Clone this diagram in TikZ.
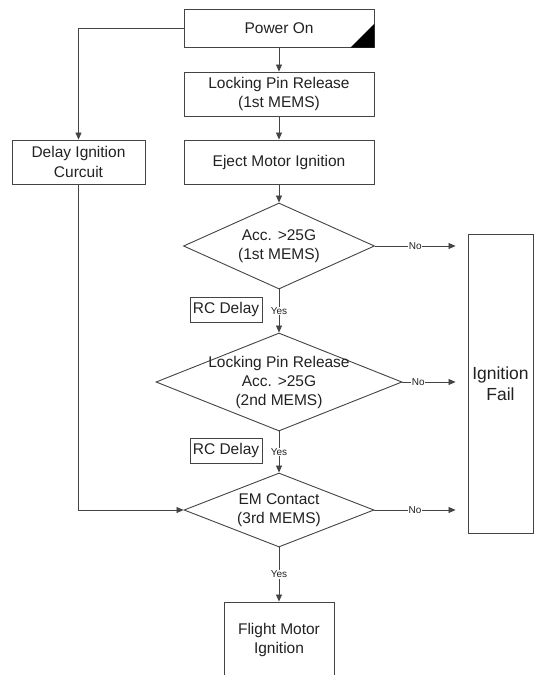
\documentclass[tikz,border=0pt]{standalone}
\usepackage{fontspec}
\setmainfont{Liberation Sans}
\usetikzlibrary{shapes.geometric,arrows.meta,calc}
\definecolor{txt}{HTML}{222222}
\definecolor{ln}{HTML}{444444}
\begin{document}
\begin{tikzpicture}[x=1pt,y=-1pt,
  box/.style={draw=ln,line width=0.9pt,inner sep=0pt,align=center,text=txt,
    font=\fontsize{15.5}{19.5}\selectfont},
  dia/.style={draw=ln,line width=0.9pt,diamond,inner sep=0pt},
  dtext/.style={align=center,text=txt,font=\fontsize{15.5}{19}\selectfont,inner sep=0pt},
  arr/.style={draw=ln,line width=0.8pt,-{Triangle[length=7pt,width=6pt]}},
  lbl/.style={fill=white,inner sep=0.6pt,text=txt,font=\fontsize{10}{11}\selectfont}]
\useasboundingbox[fill=white] (0,0) rectangle (535,675);

% boxes
\node[box,minimum width=190pt,minimum height=37.5pt] (power) at (279,28.5) {Power On};
\node[box,minimum width=190pt,minimum height=44pt] (lock) at (279,94) {Locking Pin Release\\(1st MEMS)};
\node[box,minimum width=190pt,minimum height=44pt] (eject) at (279,162) {Eject Motor Ignition};
\node[box,minimum width=133pt,minimum height=44pt] (delay) at (78.5,162) {Delay Ignition\\Curcuit};
\node[box,minimum width=65pt,minimum height=299pt,font=\fontsize{17.5}{21}\selectfont] (fail) at (500.5,383.5) {Ignition\\Fail};
\node[box,minimum width=72pt,minimum height=25pt] (rc1) at (226,309.5) {RC Delay};
\node[box,minimum width=72pt,minimum height=25pt] (rc2) at (226,450.5) {RC Delay};
\node[box,minimum width=110pt,minimum height=76pt] (flight) at (279,640) {Flight Motor\\Ignition};

% corner mark on Power On
\fill[black] ($(power.south east)+(-24,0)$) -- (power.south east) -- ($(power.south east)+(0,-24)$) -- cycle;

% diamonds
\node[dia,minimum width=191pt,minimum height=86pt] (d1) at (279,246) {};
\node[dtext] (t1) at (d1.center) {Acc. >25G\\(1st MEMS)};
\node[dia,minimum width=246pt,minimum height=98pt] (d2) at (279,382) {};
\node[dtext] (t2) at (d2.center) {Locking Pin Release\\Acc. >25G\\(2nd MEMS)};
\node[dia,minimum width=190pt,minimum height=74pt] (d3) at (279,510) {};
\node[dtext] (t3) at (d3.center) {EM Contact\\(3rd MEMS)};

% end points before Ignition Fail
\coordinate (e1) at ($(fail.west |- d1.east)+(-12,0)$);
\coordinate (e2) at ($(fail.west |- d2.east)+(-12,0)$);
\coordinate (e3) at ($(fail.west |- d3.east)+(-12,0)$);

% connectors
\draw[arr] (power.south) -- (lock.north);
\draw[arr] (lock.south) -- (eject.north);
\draw[arr] (eject.south) -- (d1.north);
\draw[arr] (d1.south) -- node[lbl]{Yes} (d2.north);
\draw[arr] (d2.south) -- node[lbl]{Yes} (d3.north);
\draw[arr] (d3.south) -- node[lbl]{Yes} (flight.north);
\draw[arr] (d1.east) -- node[lbl]{No} (e1);
\draw[arr] (d2.east) -- node[lbl,pos=0.3]{No} (e2);
\draw[arr] (d3.east) -- node[lbl]{No} (e3);
\draw[arr] (power.west) -| (delay.north);
\draw[arr] (delay.south) |- (d3.west);
\end{tikzpicture}
\end{document}
